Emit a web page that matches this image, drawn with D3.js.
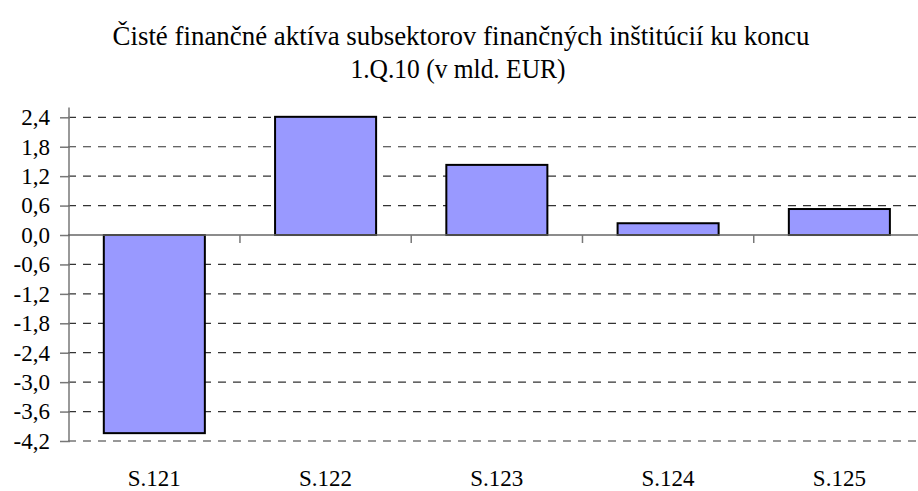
<!DOCTYPE html>
<html>
<head>
<meta charset="utf-8">
<script src="https://cdn.jsdelivr.net/npm/d3@7"></script>
<style>
  body { margin: 0; background: #fff; }
</style>
</head>
<body>
<div class="container"></div>
<script>
  // chart data
  var categories = ["S.121", "S.122", "S.123", "S.124", "S.125"];
  var values = [-4.04, 2.41, 1.43, 0.24, 0.53];
  var yTicks = [-4.2, -3.6, -3.0, -2.4, -1.8, -1.2, -0.6, 0.0, 0.6, 1.2, 1.8, 2.4];
  var titleLines = ["Čisté finančné aktíva subsektorov finančných inštitúcií ku koncu", "1.Q.10 (v mld. EUR)"];

  var serif = "Liberation Serif";

  // frame
  var w = 918;
  var h = 491;
  var svg = d3.select(".container").append("svg").attr("width", w).attr("height", h)
    .attr("font-family", serif);

  var x = d3.scaleBand().domain(categories).range([68.7, 925]).paddingInner(0.41).paddingOuter(0.205);
  var y = d3.scaleLinear().domain([-4.2, 2.6]).range([441, 107.5]);

  // title
  svg.append("text").attr("x", 461).attr("y", 45).attr("text-anchor", "middle")
    .attr("font-size", 27)
    .attr("textLength", 697).attr("lengthAdjust", "spacingAndGlyphs")
    .text(titleLines[0]);
  svg.append("text").attr("x", 458).attr("y", 78).attr("text-anchor", "middle")
    .attr("font-size", 27)
    .attr("textLength", 215).attr("lengthAdjust", "spacingAndGlyphs")
    .text(titleLines[1]);

  // gridlines
  svg.append("g").selectAll("line")
    .data(yTicks.filter(function(d){ return d != 0; }))
    .enter().append("line")
    .attr("x1", 68).attr("x2", 918)
    .attr("y1", function(d){ return y(d); }).attr("y2", function(d){ return y(d); })
    .attr("stroke", "#333").attr("stroke-width", 1.2).attr("stroke-dasharray", "8,7");

  // bars
  svg.append("g").selectAll("rect")
    .data(values).enter().append("rect")
    .attr("x", function(d, i){ return x(categories[i]); })
    .attr("width", x.bandwidth())
    .attr("y", function(d){ return y(Math.max(0, d)); })
    .attr("height", function(d){ return Math.abs(y(d) - y(0)); })
    .attr("fill", "#9999FF").attr("stroke", "#000").attr("stroke-width", 2);

  // y axis
  var yAxis = d3.axisLeft(y).tickValues(yTicks).tickSize(9).tickPadding(10)
    .tickFormat(function(d){ return d3.format(".1f")(d).replace(".", ",").replace("−", "-"); });
  var gy = svg.append("g").attr("transform", "translate(69,0)").call(yAxis);
  gy.attr("font-family", serif);
  gy.select(".domain").attr("stroke", "#777").attr("stroke-width", 1.5).attr("d", "M0," + y(2.6) + "V" + y(-4.2));
  gy.selectAll(".tick line").attr("stroke", "#777").attr("stroke-width", 1.5).attr("x2", -9).attr("x1", 1);
  gy.selectAll(".tick text").attr("font-size", 23).attr("fill", "#000");

  // x axis at zero
  var bounds = categories.map(function(c){ return x(c) - x.step() * x.paddingInner() / 2; }).slice(1);
  var gx = svg.append("g");
  gx.append("line").attr("x1", 68).attr("x2", 918).attr("y1", y(0)).attr("y2", y(0))
    .attr("stroke", "#666").attr("stroke-width", 1.5);
  gx.selectAll(".xt").data(bounds).enter().append("line").attr("class", "xt")
    .attr("x1", function(d){ return d; }).attr("x2", function(d){ return d; })
    .attr("y1", y(0)).attr("y2", y(0) + 8)
    .attr("stroke", "#777").attr("stroke-width", 1.5);

  // category labels
  svg.append("g").selectAll("text")
    .data(categories).enter().append("text")
    .attr("x", function(d){ return x(d) + x.bandwidth() / 2; })
    .attr("y", 486).attr("text-anchor", "middle").attr("font-size", 23)
    .text(function(d){ return d; });
</script>
</body>
</html>
